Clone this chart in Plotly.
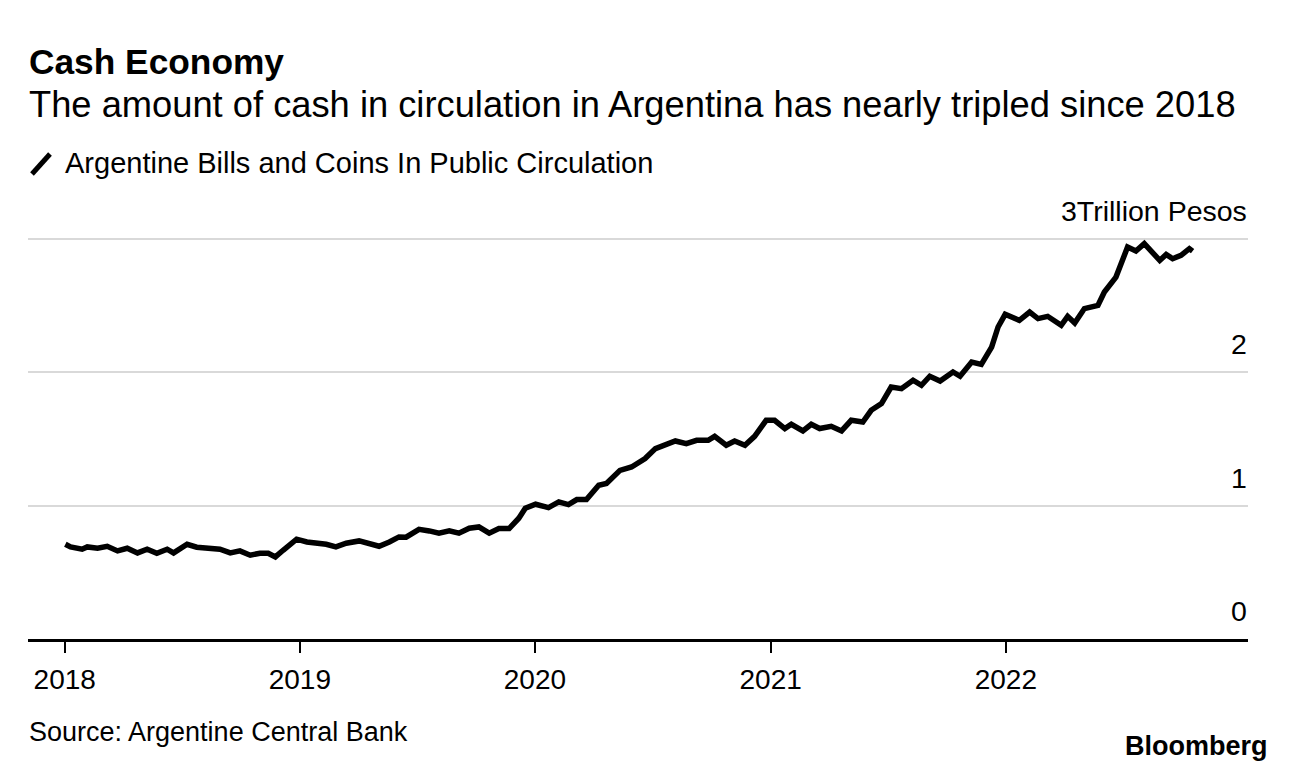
import plotly.graph_objects as go

# ---- data ----
dates = [
    "2018-01-02", "2018-01-10", "2018-01-28", "2018-02-05", "2018-02-21", "2018-03-08",
    "2018-03-24", "2018-04-08", "2018-04-24", "2018-05-09", "2018-05-24", "2018-06-09",
    "2018-06-19", "2018-07-10", "2018-07-25", "2018-08-10", "2018-08-30", "2018-09-15",
    "2018-09-30", "2018-10-16", "2018-10-31", "2018-11-13", "2018-11-24", "2018-12-06",
    "2018-12-27", "2019-01-12", "2019-01-27", "2019-02-11", "2019-02-26", "2019-03-14",
    "2019-04-03", "2019-04-19", "2019-05-04", "2019-05-20", "2019-06-04", "2019-06-15",
    "2019-07-05", "2019-07-21", "2019-08-05", "2019-08-21", "2019-09-05", "2019-09-21",
    "2019-10-06", "2019-10-22", "2019-11-06", "2019-11-22", "2019-12-07", "2019-12-17",
    "2020-01-02", "2020-01-22", "2020-02-07", "2020-02-22", "2020-03-06", "2020-03-21",
    "2020-04-09", "2020-04-21", "2020-05-12", "2020-05-30", "2020-06-20", "2020-07-06",
    "2020-07-21", "2020-08-06", "2020-08-23", "2020-09-08", "2020-09-26", "2020-10-06",
    "2020-10-24", "2020-11-06", "2020-11-22", "2020-12-07", "2020-12-25", "2021-01-07",
    "2021-01-23", "2021-02-02", "2021-02-20", "2021-03-05", "2021-03-18", "2021-04-05",
    "2021-04-21", "2021-05-06", "2021-05-24", "2021-06-06", "2021-06-22", "2021-07-07",
    "2021-07-23", "2021-08-10", "2021-08-23", "2021-09-05", "2021-09-21", "2021-10-11",
    "2021-10-22", "2021-11-09", "2021-11-24", "2021-12-10", "2021-12-20", "2021-12-31",
    "2022-01-22", "2022-02-07", "2022-02-20", "2022-03-07", "2022-03-28", "2022-04-07",
    "2022-04-18", "2022-05-03", "2022-05-24", "2022-06-03", "2022-06-21", "2022-07-09",
    "2022-07-22", "2022-08-04", "2022-08-28", "2022-09-07", "2022-09-17", "2022-09-30",
    "2022-10-13", "2022-10-18",
]
cash_trillion_pesos = [
    0.710, 0.690, 0.673, 0.690, 0.680, 0.695,
    0.660, 0.680, 0.645, 0.673, 0.643, 0.673,
    0.645, 0.710, 0.688, 0.680, 0.673, 0.645,
    0.660, 0.628, 0.643, 0.643, 0.615, 0.665,
    0.748, 0.727, 0.720, 0.710, 0.690, 0.718,
    0.735, 0.710, 0.695, 0.727, 0.765, 0.763,
    0.822, 0.810, 0.793, 0.810, 0.793, 0.830,
    0.840, 0.793, 0.828, 0.828, 0.905, 0.980,
    1.010, 0.985, 1.027, 1.007, 1.045, 1.045,
    1.152, 1.165, 1.264, 1.289, 1.352, 1.427,
    1.452, 1.484, 1.464, 1.489, 1.489, 1.519,
    1.452, 1.484, 1.452, 1.519, 1.639, 1.639,
    1.577, 1.609, 1.559, 1.609, 1.577, 1.594,
    1.559, 1.639, 1.626, 1.714, 1.764, 1.888,
    1.876, 1.939, 1.901, 1.969, 1.933, 2.001,
    1.969, 2.076, 2.058, 2.188, 2.338, 2.433,
    2.388, 2.450, 2.401, 2.418, 2.351, 2.418,
    2.368, 2.476, 2.500, 2.600, 2.712, 2.937,
    2.907, 2.963, 2.837, 2.882, 2.850, 2.875,
    2.925, 2.907,
]
x_tick_vals = ["2018-01-01", "2019-01-01", "2020-01-01", "2021-01-01", "2022-01-01"]
x_tick_text = ["2018", "2019", "2020", "2021", "2022"]
y_tick_vals = [0, 1, 2, 3]
y_tick_text = ["0", "1", "2", "3Trillion Pesos"]

title = "Cash Economy"
subtitle = "The amount of cash in circulation in Argentina has nearly tripled since 2018"
series_name = "Argentine Bills and Coins In Public Circulation"
source = "Source: Argentine Central Bank"

# ---- layout geometry (page body has an 8px margin) ----
OFF = 8
W, H = 1296 - OFF, 772 - OFF
PL, PR, PT, PB = 28, 1248, 236, 639          # plot box in page pixels
ML, MR, MT, MB = PL - OFF, (W + OFF) - PR, PT - OFF, (H + OFF) - PB
PW, PH = PR - PL, PB - PT
FONT = "Liberation Sans, Arial, sans-serif"


def px_x(x):
    return (x - PL) / PW


def px_y(y):
    return (PB - y) / PH


fig = go.Figure()
fig.add_trace(go.Scatter(
    x=dates, y=cash_trillion_pesos, mode="lines", name=series_name,
    line=dict(color="#000000", width=5.5), hoverinfo="skip", showlegend=False,
))

annotations = []
for v, t in zip(y_tick_vals, y_tick_text):
    annotations.append(dict(
        x=1, y=v, xref="paper", yref="y", text=t, showarrow=False,
        xanchor="right", yanchor="bottom", xshift=1, yshift=10,
        font=dict(family=FONT, size=28.5, color="#000000"),
    ))
annotations += [
    dict(x=px_x(27), y=px_y(62), xref="paper", yref="paper", text="<b>" + title + "</b>",
         showarrow=False, xanchor="left", yanchor="middle",
         font=dict(family=FONT, size=35.3, color="#000000")),
    dict(x=px_x(27), y=px_y(104), xref="paper", yref="paper", text=subtitle,
         showarrow=False, xanchor="left", yanchor="middle",
         font=dict(family=FONT, size=36.3, color="#000000")),
    dict(x=px_x(63), y=px_y(163), xref="paper", yref="paper", text=series_name,
         showarrow=False, xanchor="left", yanchor="middle",
         font=dict(family=FONT, size=29, color="#000000")),
    dict(x=px_x(27), y=px_y(732), xref="paper", yref="paper", text=source,
         showarrow=False, xanchor="left", yanchor="middle",
         font=dict(family=FONT, size=27, color="#000000")),
    dict(x=px_x(1270), y=px_y(746), xref="paper", yref="paper", text="<b>Bloomberg</b>",
         showarrow=False, xanchor="right", yanchor="middle",
         font=dict(family=FONT, size=27, color="#000000")),
]

shapes = [
    dict(type="line", xref="paper", yref="paper",
         x0=px_x(32), y0=px_y(174), x1=px_x(50), y1=px_y(154),
         line=dict(color="#000000", width=5)),
]

fig.update_layout(
    width=W, height=H,
    margin=dict(l=ML, r=MR, t=MT, b=MB, pad=0),
    paper_bgcolor="#ffffff", plot_bgcolor="#ffffff",
    showlegend=False,
    hovermode=False,
    annotations=annotations,
    shapes=shapes,
    font=dict(family=FONT, color="#000000"),
)
fig.update_xaxes(
    type="date", range=["2017-11-05", "2023-01-12"],
    tickmode="array", tickvals=x_tick_vals, ticktext=x_tick_text,
    ticks="outside", ticklen=11, tickwidth=1.5, tickcolor="#000000",
    showline=True, linecolor="#000000", linewidth=2.5,
    showgrid=False, zeroline=False,
    tickfont=dict(family=FONT, size=28, color="#000000"),
    ticklabelstandoff=3,
)
fig.update_yaxes(
    range=[0, 3.02], tickmode="array", tickvals=y_tick_vals,
    showticklabels=False, ticks="",
    showgrid=True, gridcolor="#d9d9d9", gridwidth=2,
    zeroline=False, showline=False,
)

fig.write_html("out.html", config={"displayModeBar": False})
